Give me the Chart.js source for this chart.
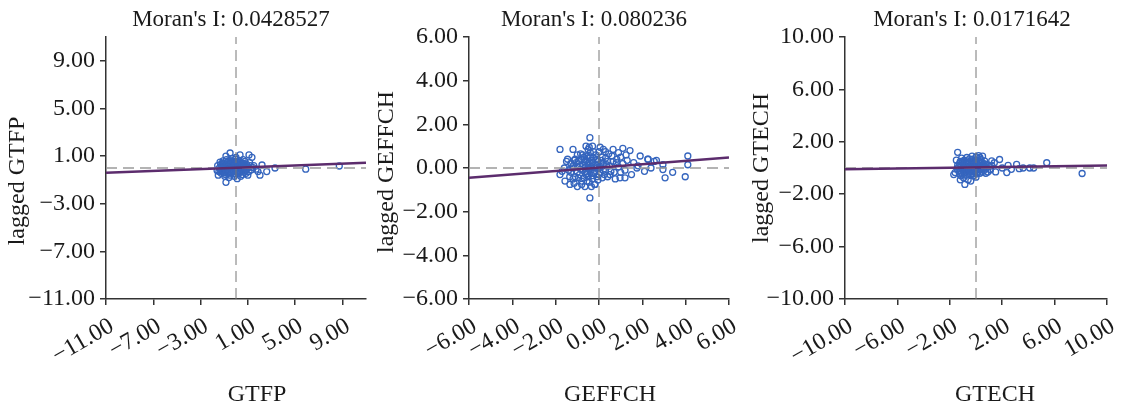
<!DOCTYPE html>
<html>
<head>
<meta charset="utf-8">
<script src="https://cdn.jsdelivr.net/npm/chart.js@4.4.1/dist/chart.umd.min.js"></script>
<style>
  body { margin: 0; background: #fff; width: 1122px; height: 409px; overflow: hidden; position: relative; }
  canvas { position: absolute; top: 0; }
</style>
</head>
<body>
<canvas id="c1" width="374" height="409" style="left:0px"></canvas>
<canvas id="c2" width="374" height="409" style="left:374px"></canvas>
<canvas id="c3" width="374" height="409" style="left:748px"></canvas>
<script>
// Moran scatter plots: GTFP / GEFFCH / GTECH

const titles = ["Moran's I: 0.0428527", "Moran's I: 0.080236", "Moran's I: 0.0171642"];
const varNames = ['GTFP', 'GEFFCH', 'GTECH'];

const gtfpTicks = [-11, -7, -3, 1, 5, 9];
const geffchTicks = [-6, -4, -2, 0, 2, 4, 6];
const gtechTicks = [-10, -6, -2, 2, 6, 10];

// fitted line, y at left / right end of axis
const gtfpFit = [-0.4, 0.45];
const geffchFit = [-0.45, 0.48];
const gtechFit = [-0.1, 0.2];

const gtfpPoints = [
  [-0.5,1.26],[0.34,1.1],[1.1,1.1],[1.35,0.9],[-1.35,0.5],[-0.85,-1.2],[0.1,-0.9],[-1.5,-0.6],[1.86,-0.3],[2.6,-0.3],
  [3.3,0.0],[5.9,-0.1],[8.74,0.17],[1.0,-0.6],[2.2,0.25],[2.03,-0.6],[-0.85,1.0],[-1.55,0.2],[-1.6,-0.2],[1.5,0.2],[1.7,-0.1],
  [-1.3,0.3],[-1.2,-0.1],[-1.1,0.6],[-1.0,-0.4],[-0.9,0.2],[-0.8,0.7],[-0.7,-0.2],[-0.6,0.4],[-0.5,-0.6],[-0.4,0.1],
  [-0.3,0.8],[-0.2,-0.3],[-0.1,0.5],[0.0,-0.1],[0.1,0.3],[0.2,-0.5],[0.3,0.6],[0.4,0.0],[0.5,-0.3],[0.6,0.4],
  [0.7,0.1],[0.8,-0.2],[0.9,0.3],[1.0,0.0],[1.1,-0.3],[1.2,0.2],
  [-1.4,0.0],[-1.25,-0.45],[-1.05,0.15],[-0.95,-0.7],[-0.75,0.45],[-0.65,-0.45],[-0.55,0.05],[-0.45,0.6],[-0.35,-0.15],
  [-0.25,0.25],[-0.15,-0.7],[-0.05,0.75],[0.05,0.15],[0.15,-0.25],[0.25,0.45],[0.35,-0.05],[0.45,0.25],[0.55,-0.55],
  [0.65,-0.05],[0.75,0.55],[0.85,-0.45],[0.95,0.1],
  [-1.15,0.4],[-0.85,-0.15],[-0.6,-0.8],[-0.3,0.35],[0.0,0.9],[0.2,0.0],[0.4,-0.7],[-1.45,-0.3],[1.3,-0.15],[1.4,0.05],
  [-0.2,0.05],[0.6,0.7],[-0.9,-0.35],[-0.5,0.3],[1.15,0.45],
  [-1.2,0.15],[-1.1,-0.2],[-1.0,0.35],[-0.95,0.0],[-0.9,-0.55],[-0.8,0.1],[-0.75,0.25],[-0.7,-0.4],[-0.65,0.6],[-0.6,0.1],
  [-0.55,-0.3],[-0.5,0.5],[-0.45,-0.1],[-0.4,0.35],[-0.4,-0.45],[-0.35,0.6],[-0.3,-0.3],[-0.25,0.0],[-0.2,0.55],[-0.15,0.2],
  [-0.1,-0.5],[-0.05,0.35],[0.0,0.05],[0.05,-0.35],[0.1,0.55],[0.15,0.1],[0.2,0.3],[0.25,-0.4],[0.3,0.2],[0.35,-0.25],
  [0.45,0.45],[0.5,0.1],[0.55,0.3],[0.7,-0.35],[0.75,0.3],[0.85,0.0],[-0.7,0.05],[-0.1,0.15],[0.3,-0.1],[-1.3,-0.25]
];

const geffchPoints = [
  [-0.42,1.39],[-0.42,-1.37],[-1.8,0.85],[-1.2,0.85],[0.65,0.85],[1.1,0.9],[1.43,0.8],[1.9,0.55],[2.27,0.4],[2.65,0.35],
  [2.95,0.15],[4.1,0.55],[4.1,0.15],[3.98,-0.4],[3.4,-0.2],[3.05,-0.45],[2.95,-0.07],[2.4,0.0],[2.1,-0.15],[2.25,0.4],
  [2.55,0.3],[-1.8,-0.3],[-1.57,-0.6],[-1.34,-0.75],[-0.8,-0.75],[-0.18,-0.75],[0.97,-0.45],[1.2,-0.45],[0.5,-0.3],[1.75,0.0],
  [0.82,0.4],[0.05,0.95],[1.25,0.6],[1.6,0.25],[1.5,-0.3],[0.3,0.75],[-0.6,1.0],[-1.0,0.6],[-1.5,0.3],[1.8,0.1],
  [-1.4,-0.1],[-1.3,0.2],[-1.2,-0.5],[-1.1,0.4],[-1.0,-0.2],[-0.9,0.1],[-0.8,-0.6],[-0.7,0.5],[-0.6,-0.3],[-0.5,0.2],
  [-0.4,0.7],[-0.3,-0.5],[-0.2,0.0],[-0.1,0.4],[0.0,-0.3],[0.1,0.2],[0.2,-0.1],[0.3,0.45],[0.4,-0.4],[0.5,0.1],
  [0.6,0.55],[0.7,-0.2],[0.8,0.25],
  [-1.45,0.4],[-1.35,-0.4],[-1.25,0.0],[-1.15,-0.7],[-1.05,0.25],[-0.95,-0.45],[-0.85,0.65],[-0.75,-0.1],[-0.65,0.3],
  [-0.55,-0.6],[-0.45,-0.05],[-0.35,0.35],[-0.25,-0.25],[-0.15,0.6],[-0.05,-0.55],[0.05,0.05],[0.15,0.5],[0.25,-0.3],
  [0.35,0.15],[0.45,0.65],[0.55,-0.15],[0.65,0.3],[0.75,-0.5],[0.9,0.05],[1.0,0.5],[1.1,0.2],[1.2,-0.1],[1.3,0.35],
  [-0.5,0.85],[-0.35,-0.85],[-0.65,-0.85],[-1.0,-0.85],[0.0,0.75],[-0.2,-0.75],[0.2,0.85],[0.9,0.7],[1.0,-0.2],
  [-1.6,0.0],[-1.7,-0.15],[-0.3,1.0],[-0.45,0.95],
  [-1.3,-0.2],[-1.2,0.1],[-1.15,0.35],[-1.1,-0.4],[-1.0,0.05],[-0.95,0.3],[-0.9,-0.3],[-0.85,-0.05],[-0.8,0.4],[-0.75,0.15],
  [-0.7,-0.45],[-0.65,0.0],[-0.6,0.35],[-0.6,-0.15],[-0.55,0.55],[-0.5,-0.4],[-0.5,0.0],[-0.45,0.3],[-0.4,-0.2],[-0.4,0.5],
  [-0.35,0.05],[-0.3,-0.35],[-0.3,0.25],[-0.25,0.45],[-0.2,-0.2],[-0.15,0.15],[-0.1,-0.4],[-0.1,0.1],[-0.05,0.3],[0.0,0.0],
  [0.05,-0.2],[0.1,0.35],[0.15,-0.45],[0.2,0.2],[0.3,-0.15],[0.4,0.3],[-0.55,-0.25],[-0.75,0.6],[-0.25,0.75],[-0.45,-0.65]
];

const gtechPoints = [
  [-1.4,1.2],[-0.85,-1.25],[1.8,0.65],[2.45,0.2],[3.1,0.27],[3.6,0.0],[4.1,0.0],[4.4,0.0],[5.4,0.4],[8.1,-0.42],
  [2.35,-0.35],[1.07,-0.1],[-1.6,-0.35],[-1.2,-0.9],[-0.6,-0.9],[-0.4,-1.0],[-1.5,0.6],[-1.7,-0.5],[0.5,0.9],[0.2,0.95],
  [-0.3,0.9],[1.4,0.4],[1.5,-0.3],[2.0,0.0],[2.7,-0.1],[3.3,-0.05],[1.2,0.55],[0.0,-0.7],
  [-1.4,0.2],[-1.3,-0.2],[-1.2,0.5],[-1.1,-0.4],[-1.0,0.1],[-0.9,0.6],[-0.8,-0.3],[-0.7,0.3],[-0.6,-0.1],[-0.5,0.7],
  [-0.4,-0.5],[-0.3,0.0],[-0.2,0.4],[-0.1,-0.3],[0.0,0.2],[0.1,-0.1],[0.2,0.5],[0.3,-0.4],[0.4,0.1],[0.5,0.4],
  [0.6,-0.2],[0.7,0.3],[0.8,0.0],[0.9,-0.3],
  [-1.45,-0.05],[-1.25,0.35],[-1.15,-0.6],[-1.05,0.4],[-0.95,-0.15],[-0.85,0.2],[-0.75,-0.55],[-0.65,0.55],[-0.55,0.15],
  [-0.45,-0.25],[-0.35,0.45],[-0.25,-0.45],[-0.15,0.05],[-0.05,0.6],[0.05,-0.45],[0.15,0.25],[0.25,-0.15],[0.35,0.65],
  [0.45,-0.3],[0.55,0.05],[0.65,0.55],[0.75,-0.4],[0.85,0.25],[1.0,0.1],
  [-1.1,0.75],[-0.7,0.8],[0.0,0.85],[-0.95,-0.75],[0.3,0.8],[1.1,-0.15],[1.2,0.2],[-0.2,-0.6],
  [-1.3,0.1],[-1.2,-0.3],[-1.15,0.2],[-1.05,-0.1],[-1.0,0.5],[-0.95,0.25],[-0.9,-0.4],[-0.85,0.0],[-0.8,0.45],[-0.75,0.1],
  [-0.7,-0.2],[-0.65,0.3],[-0.6,0.05],[-0.55,-0.4],[-0.5,0.35],[-0.45,0.1],[-0.4,0.55],[-0.35,-0.15],[-0.3,0.25],[-0.25,-0.3],
  [-0.2,0.1],[-0.15,0.5],[-0.1,0.0],[-0.05,-0.2],[0.0,0.4],[0.05,0.05],[0.1,0.3],[0.15,-0.3],[0.2,0.15],[0.25,0.4],
  [0.3,0.0],[0.4,0.35],[0.5,-0.1],[0.6,0.2],[-0.85,-0.2],[-0.5,-0.1],[-1.25,-0.45],[-0.3,0.65]
];

const SERIF = '"Liberation Serif", "Times New Roman", serif';
const INK = '#1a1a1a';

function fmt(v) {
  return (v < 0 ? '\u2212' : '') + Math.abs(v).toFixed(2);
}

// titles drawn by hand so they can sit where the original has them
const panelText = {
  id: 'panelText',
  afterDraw(chart, args, o) {
    const ctx = chart.ctx;
    ctx.save();
    ctx.fillStyle = INK;
    ctx.textAlign = 'center';
    ctx.textBaseline = 'middle';
    ctx.font = '23px ' + SERIF;
    ctx.fillText(o.title, o.titleX, 20);
    ctx.font = '24px ' + SERIF;
    ctx.fillText(o.xTitle, o.xTitleX, 395);
    ctx.translate(o.yTitleX, o.yTitleY);
    ctx.rotate(-Math.PI / 2);
    ctx.fillText(o.yTitle, 0, 0);
    ctx.restore();
  }
};

function axis(ticks, extra) {
  return Object.assign({
    type: 'linear',
    min: ticks.min,
    max: ticks.max,
    afterBuildTicks: s => { s.ticks = ticks.list.map(v => ({ value: v })); },
    ticks: {
      autoSkip: false,
      color: INK,
      font: { family: SERIF, size: 24 },
      padding: 5,
      callback: v => fmt(v)
    },
    grid: { drawOnChartArea: false, drawTicks: true, tickLength: 6, color: '#333', lineWidth: 1.5 },
    border: { color: '#333', width: 1.5 }
  }, extra);
}

function panel(id, p) {
  const xr = { min: p.xMin, max: p.xMax, list: p.xTicks };
  const yr = { min: p.yMin, max: p.yMax, list: p.yTicks };
  // fixed height, and no extra room asked for the last slanted label
  const xAxis = axis(xr, { afterFit: s => { s.height = 110; s.paddingRight = 0; } });
  xAxis.ticks.minRotation = 30;
  xAxis.ticks.maxRotation = 30;
  xAxis.ticks.padding = 7;
  xAxis.ticks.labelOffset = 6;
  const yAxis = axis(yr, { afterFit: s => { s.width = p.yWidth; } });

  new Chart(document.getElementById(id), {
    type: 'scatter',
    data: {
      datasets: [
        {
          data: p.points.map(([x, y]) => ({ x, y })),
          pointStyle: 'circle',
          pointRadius: 3,
          borderColor: '#3565be',
          backgroundColor: 'rgba(255,255,255,0)',
          borderWidth: 1.3,
          order: 3
        },
        {
          type: 'line',
          data: [{ x: p.xMin, y: p.fit[0] }, { x: p.xMax, y: p.fit[1] }],
          borderColor: '#5c2c6d',
          borderWidth: 2.5,
          pointRadius: 0,
          order: 0
        },
        {
          type: 'line',
          data: [{ x: 0, y: p.yMin }, { x: 0, y: p.yMax }],
          borderColor: '#777',
          borderDash: [11, 6],
          borderWidth: 1,
          pointRadius: 0,
          order: 1
        },
        {
          type: 'line',
          data: [{ x: p.xMin, y: 0 }, { x: p.xMax, y: 0 }],
          borderColor: '#9a9a9a',
          borderDash: [11, 6],
          borderWidth: 1.3,
          pointRadius: 0,
          order: 2
        }
      ]
    },
    plugins: [panelText],
    options: {
      responsive: false,
      animation: false,
      layout: { padding: { top: 37, right: p.padRight, bottom: 0, left: 0 } },
      scales: { x: xAxis, y: yAxis },
      plugins: {
        legend: { display: false },
        tooltip: { enabled: false },
        panelText: p.text
      }
    }
  });
}

panel('c1', {
  points: gtfpPoints, fit: gtfpFit,
  xMin: -11, xMax: 11, yMin: -11, yMax: 11, xTicks: gtfpTicks, yTicks: gtfpTicks,
  yWidth: 106, padRight: 8,
  text: { title: titles[0], titleX: 231, xTitle: varNames[0], xTitleX: 257, yTitle: 'lagged ' + varNames[0], yTitleX: 18, yTitleY: 181 }
});

panel('c2', {
  points: geffchPoints, fit: geffchFit,
  xMin: -6, xMax: 6, yMin: -6, yMax: 6, xTicks: geffchTicks, yTicks: geffchTicks,
  yWidth: 95, padRight: 19,
  text: { title: titles[1], titleX: 220, xTitle: varNames[1], xTitleX: 236, yTitle: 'lagged ' + varNames[1], yTitleX: 13, yTitleY: 172 }
});

panel('c3', {
  points: gtechPoints, fit: gtechFit,
  xMin: -10, xMax: 10, yMin: -10, yMax: 10, xTicks: gtechTicks, yTicks: gtechTicks,
  yWidth: 97, padRight: 15,
  text: { title: titles[2], titleX: 224, xTitle: varNames[2], xTitleX: 247, yTitle: 'lagged ' + varNames[2], yTitleX: 14, yTitleY: 168 }
});
</script>
</body>
</html>
